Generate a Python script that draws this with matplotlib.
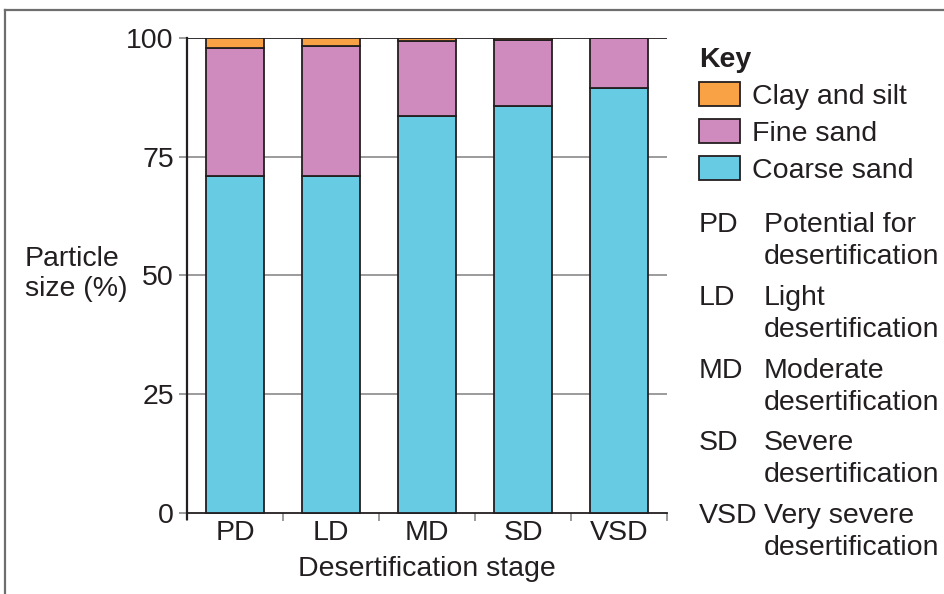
import matplotlib.pyplot as plt
from matplotlib.lines import Line2D
import numpy as np

plt.rcParams['font.family'] = ['Liberation Sans', 'DejaVu Sans']

# data
stages = ["PD", "LD", "MD", "SD", "VSD"]
coarse_sand = [71.0, 71.0, 83.6, 85.7, 89.4]
fine_sand = [26.8, 27.3, 15.7, 13.9, 10.6]
clay_silt = [2.2, 1.7, 0.7, 0.4, 0.0]
stage_names = ["Potential for\ndesertification", "Light\ndesertification",
               "Moderate\ndesertification", "Severe\ndesertification",
               "Very severe\ndesertification"]

txt = "#231f20"
fs = 20.5
W, H = 944, 594

fig = plt.figure(figsize=(W / 100, H / 100), dpi=100)
# axes placed in pixels: x from 187 to 667, y 100 at 38, -1.3 at 519
ax = fig.add_axes([187 / W, 1 - 519 / H, 480 / W, (519 - 38) / H])

x = np.arange(len(stages))
w = 0.61
ec = "#231f20"
b1 = ax.bar(x, coarse_sand, w, color="#67cbe4", edgecolor=ec, lw=1.3, zorder=3,
            label="Coarse sand")
b2 = ax.bar(x, fine_sand, w, bottom=coarse_sand, color="#cf8bbd", edgecolor=ec,
            lw=1.3, zorder=3, label="Fine sand")
bottom2 = np.array(coarse_sand) + np.array(fine_sand)
b3 = ax.bar(x, clay_silt, w, bottom=bottom2, color="#f9a245", edgecolor=ec,
            lw=1.3, zorder=3, label="Clay and silt")

ax.set_xlim(-0.5, 4.5)
ax.set_ylim(-1.3, 100)
for yv in [25, 50, 75]:
    ax.axhline(yv, color="#8a8a8a", lw=1.2, zorder=1)
ax.axhline(100, color=txt, lw=1.3, zorder=1)

for s in ["top", "right"]:
    ax.spines[s].set_visible(False)
ax.spines["bottom"].set_position(("data", 0))
ax.spines["left"].set_linewidth(1.6)
ax.spines["bottom"].set_linewidth(1.3)
ax.spines["left"].set_color(txt)
ax.spines["bottom"].set_color(txt)

ax.set_yticks([0, 25, 50, 75, 100])
ax.tick_params(axis="y", length=6, width=1.2, color="#8a8a8a", pad=3.5,
               labelsize=fs, labelcolor=txt)
ax.set_xticks(x)
ax.set_xticklabels(stages)
ax.set_xticks(np.arange(-0.5, 5, 1), minor=True)
ax.tick_params(axis="x", which="major", length=0, pad=5, labelsize=fs,
               labelcolor=txt)
ax.tick_params(axis="x", which="minor", length=6, width=1.2, color="#8a8a8a")

fig.text(25 / W, 1 - 274 / H, "Particle\nsize (%)", fontsize=fs, color=txt,
         ha="left", va="center", linespacing=1.2)
fig.text(427 / W, 1 - 569 / H, "Desertification stage", fontsize=fs,
         color=txt, ha="center", va="center")

# key
leg = fig.legend(handles=[b3, b2, b1], labels=["Clay and silt", "Fine sand", "Coarse sand"],
                 loc="upper left", bbox_to_anchor=(699 / W, 1 - 47 / H),
                 frameon=False, fontsize=fs, title="Key", alignment="left",
                 title_fontproperties={"weight": "bold", "size": fs},
                 handlelength=1.44, handleheight=0.91, handletextpad=0.42,
                 labelspacing=0.32, borderpad=0, borderaxespad=0)
for t in leg.get_texts():
    t.set_color(txt)
leg.get_title().set_color(txt)

for i, (ab, nm) in enumerate(zip(stages, stage_names)):
    yc = 1 - (225 + 72.8 * i) / H
    fig.text(699 / W, yc, ab, fontsize=fs, color=txt, ha="left", va="center")
    fig.text(764 / W, yc + 13 / H, nm, fontsize=fs, color=txt, ha="left",
             va="top", linespacing=1.3)

# frame lines of the original figure box
fig.add_artist(Line2D([5 / W, 1], [1 - 10 / H, 1 - 10 / H], color="#6e6e6e", lw=1.6))
fig.add_artist(Line2D([5 / W, 5 / W], [0, 1 - 10 / H], color="#6e6e6e", lw=1.6))

fig.savefig("out.png", dpi=100)
